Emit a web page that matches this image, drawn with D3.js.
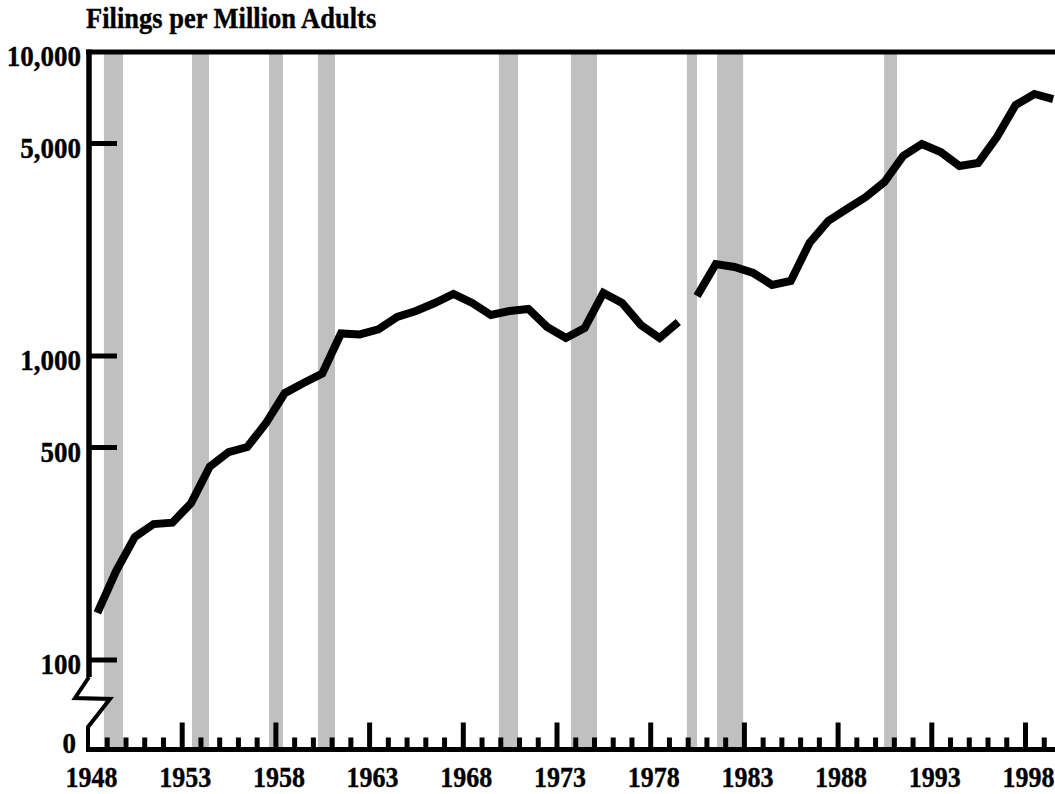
<!DOCTYPE html>
<html>
<head>
<meta charset="utf-8">
<script src="https://cdn.jsdelivr.net/npm/d3@7"></script>
<style>
  html, body { margin: 0; padding: 0; background: #fff; }
  svg { display: block; }
  text { font-family: "Liberation Serif", "Times New Roman", serif; font-weight: bold; fill: #000; stroke: #000; stroke-width: 0.35; }
</style>
</head>
<body>
<svg id="chart" width="1055" height="794"></svg>
<script>
// ---- Data ----
const title = "Filings per Million Adults";
const yearsA = [1948,1949,1950,1951,1952,1953,1954,1955,1956,1957,1958,1959,1960,1961,1962,1963,
                1964,1965,1966,1967,1968,1969,1970,1971,1972,1973,1974,1975,1976,1977,1978,1979];
const filingsA = [143,196,254,280,283,328,433,483,502,602,755,815,876,1186,1177,1223,
                  1344,1406,1494,1600,1494,1364,1406,1428,1246,1146,1236,1612,1494,1265,1146,1294];
const yearsB = [1980,1981,1982,1983,1984,1985,1986,1987,1988,1989,1990,1991,1992,1993,1994,1995,
                1996,1997,1998,1999];
const filingsB = [1575,2007,1963,1875,1713,1765,2353,2781,3045,3334,3736,4549,4982,4690,4217,4313,
                  5253,6694,7275,7004];
const recessionStarts = [1948.85,1953.55,1957.66,1960.27,1969.93,1973.77,1979.96,1981.57,1990.48];
const recessionEnds   = [1949.87,1954.46,1958.40,1961.18,1970.95,1975.16,1980.50,1982.96,1991.17];
const yTickValues = [10000,5000,1000,500,100];
const yTickLabels = ["10,000","5,000","1,000","500","100"];
const zeroLabel = "0";
const xTickYears = d3.range(1948, 2000);
const xLabelYears = [1948,1953,1958,1963,1968,1973,1978,1983,1988,1993,1998];

// ---- Layout ----
const svg = d3.select("#chart");
const x = d3.scaleLinear().domain([1948, 2000]).range([88, 88 + 52 * 18.74]);
const y = d3.scaleLog().domain([100, 10000]).range([660, 52]);
const axisY = 749.5;
const axisX = 89;
const rightEdge = 1055;
const stretch = 1.1;

function placeText(sel, fx, fy) {
  sel.attr("x", 0).attr("y", 0)
     .attr("transform", (d, i) => `translate(${fx(d, i)},${fy(d, i)}) scale(1,${stretch})`);
}

// recession bands
svg.append("g").selectAll("rect")
  .data(recessionStarts.map((s, i) => [s, recessionEnds[i]]))
  .join("rect")
  .attr("x", d => x(d[0]))
  .attr("width", d => x(d[1]) - x(d[0]))
  .attr("y", y(10000))
  .attr("height", axisY - y(10000))
  .attr("fill", "#c0c0c0");

// top frame line at 10,000
svg.append("line")
  .attr("x1", axisX - 3).attr("x2", rightEdge)
  .attr("y1", y(10000)).attr("y2", y(10000))
  .attr("stroke", "#000").attr("stroke-width", 5);

// left axis with break
svg.append("line")
  .attr("x1", axisX).attr("x2", axisX)
  .attr("y1", y(10000) - 2.5).attr("y2", 677)
  .attr("stroke", "#000").attr("stroke-width", 5.5);
svg.append("path")
  .attr("d", `M${axisX},677 L75,698 L110,699 L${axisX - 1},727 L${axisX - 1},${axisY + 2}`)
  .attr("fill", "none").attr("stroke", "#000").attr("stroke-width", 4)
  .attr("stroke-linejoin", "miter");

// y ticks (inward)
svg.append("g").selectAll("line")
  .data(yTickValues.slice(1))
  .join("line")
  .attr("x1", axisX).attr("x2", 117)
  .attr("y1", d => y(d)).attr("y2", d => y(d))
  .attr("stroke", "#000").attr("stroke-width", 5);

// y labels
svg.append("g").selectAll("text")
  .data(yTickValues)
  .join("text")
  .attr("text-anchor", "end")
  .attr("font-size", 27)
  .text((d, i) => yTickLabels[i])
  .call(placeText, () => 81, d => y(d) + 14);
svg.append("text")
  .datum(0)
  .attr("text-anchor", "end")
  .attr("font-size", 27)
  .text(zeroLabel)
  .call(placeText, () => 76, () => axisY + 3);

// x axis
const xAxis = d3.axisBottom(x)
  .tickValues(xTickYears)
  .tickSize(-12)
  .tickFormat(d => xLabelYears.includes(d) ? String(d) : "");
const gx = svg.append("g").attr("transform", `translate(0,${axisY})`).call(xAxis);
gx.select(".domain").remove();
gx.selectAll(".tick line")
  .attr("stroke", "#000").attr("stroke-width", 5)
  .attr("y2", d => (d - 1948) % 5 === 0 ? -27 : -12)
  .attr("display", d => d === 1948 ? "none" : null);
gx.selectAll(".tick text")
  .attr("font-family", "Liberation Serif, Times New Roman, serif")
  .attr("font-weight", "bold")
  .attr("font-size", 26)
  .attr("fill", "#000")
  .attr("dy", null)
  .call(placeText, () => 3, () => 37);

svg.append("line")
  .attr("x1", axisX - 3).attr("x2", rightEdge)
  .attr("y1", axisY).attr("y2", axisY)
  .attr("stroke", "#000").attr("stroke-width", 5);

// data line (two segments, break between 1979 and 1980)
const line = d3.line()
  .x(d => x(d[0] + 0.5))
  .y(d => y(d[1]));
[[yearsA, filingsA], [yearsB, filingsB]].forEach(([yrs, vals]) => {
  svg.append("path")
    .datum(yrs.map((yr, i) => [yr, vals[i]]))
    .attr("d", line)
    .attr("fill", "none")
    .attr("stroke", "#000")
    .attr("stroke-width", 8)
    .attr("stroke-linejoin", "miter")
    .attr("stroke-miterlimit", 3)
    .attr("stroke-linecap", "butt");
});

// title
svg.append("text")
  .datum(0)
  .attr("font-size", 26.5)
  .text(title)
  .call(placeText, () => 86, () => 28);
</script>
</body>
</html>
